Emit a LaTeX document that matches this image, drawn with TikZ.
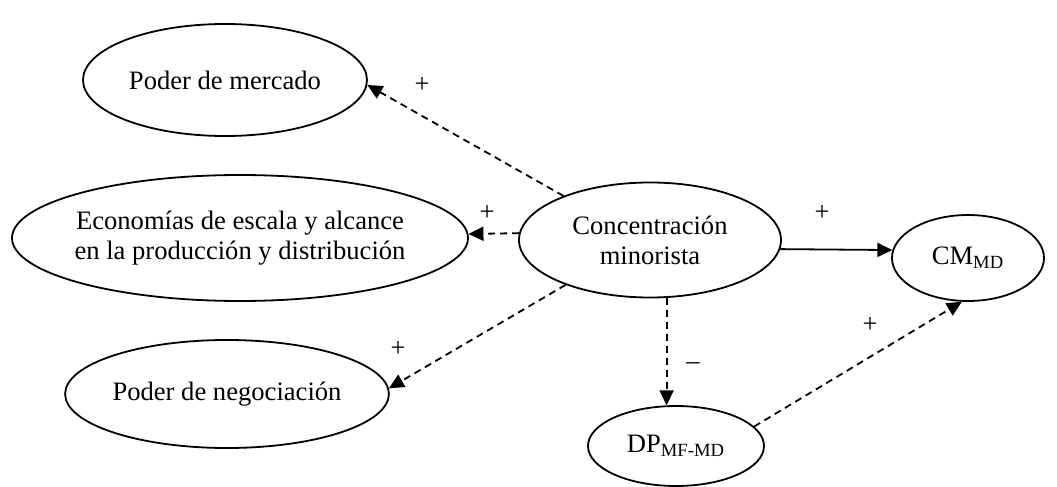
\documentclass[tikz,border=0pt]{standalone}
\usepackage{fontspec}
\setmainfont{Liberation Serif}
\usetikzlibrary{shapes.geometric,arrows.meta}

\begin{document}
\begin{tikzpicture}[x=0.5pt,y=-0.5pt,
    factor/.style={ellipse,draw,line width=0.9pt,inner sep=0pt,align=center,
                   font=\fontsize{13.3}{15}\selectfont},
    efecto/.style={line width=0.9pt,-{Triangle[length=7.5pt,width=7pt]}},
    efectodash/.style={efecto,dash pattern=on 3.5pt off 2.5pt},
    signo/.style={anchor=base,inner sep=0pt,font=\fontsize{13.3}{15}\selectfont}]
  \useasboundingbox (0,0) rectangle (1057,487);
  % factores
  \node[factor,minimum width=142pt,minimum height=56pt]   (merc)  at (225,80)  {Poder de mercado};
  \node[factor,inner xsep=-6pt,minimum width=228pt,minimum height=63pt]
                                                          (econ)  at (240,238) {Econom\'ias de escala y alcance\\en la producci\'on y distribuci\'on};
  \node[factor,minimum width=145pt,minimum height=54pt]   (negoc) at (227,394) {Poder de negociaci\'on};
  \node[factor,minimum width=131pt,minimum height=57.5pt] (conc)  at (650,240) {Concentraci\'on\\minorista};
  \node[factor,minimum width=76pt,minimum height=43pt]    (cm)    at (968,258) {CM\textsubscript{MD}};
  \node[factor,minimum width=88pt,minimum height=40pt]    (dp)    at (676,446) {DP\textsubscript{MF-MD}};
  % efectos
  \draw[efectodash] (conc.153) -- (merc.-2);
  \draw[efectodash] (conc.177) -- (econ.1);
  \draw[efectodash] (conc.208) -- (negoc.2);
  \draw[efecto]     (conc.-4)  -- (cm.174);
  \draw[efectodash] (dp.103 |- conc.south) -- (dp.103);
  \draw[efectodash] (dp.14)    -- (cm.-98);
  % signos
  \node[signo] (s1) at (422,92)  {+};
  \node[signo] (s2) at (487,220) {+};
  \node[signo] (s3) at (398,356) {+};
  \node[signo] (s4) at (822,220) {+};
  \node[signo] (s5) at (693,369) {--};
  \node[signo] (s6) at (870,332) {+};
\end{tikzpicture}
\end{document}
